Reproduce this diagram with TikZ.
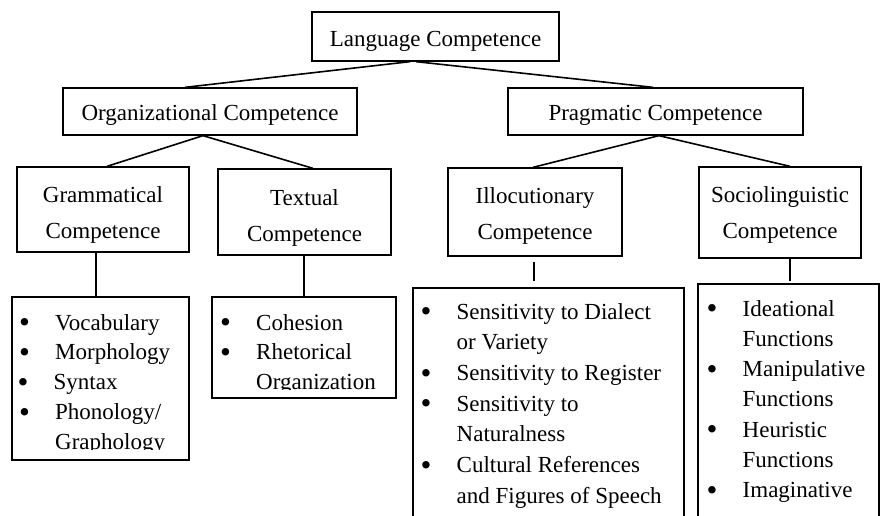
\documentclass[tikz,border=0pt]{standalone}
\usepackage{fontspec}
\setmainfont{Liberation Serif}
\newcommand\mybul{\raisebox{-2.7pt}{\scalebox{1.35}{\textbullet}}}
\newcommand\lbul[1]{\makebox[36pt][l]{\mybul}#1}
\newcommand\lcont[1]{\hspace*{36pt}#1}
\newcommand\twoline[2]{\begin{tabular}[t]{@{}c@{}}#1\\#2\end{tabular}}
\begin{document}
\begin{tikzpicture}[x=1pt,y=-1pt,
  box/.style={draw=black, line width=1.3pt, inner sep=0pt, font=\fontsize{23}{36}\selectfont},
  listbox/.style={draw=black, line width=1.3pt, inner sep=0pt},
  lst/.style={inner sep=0pt, anchor=base west},
  link/.style={line width=1.6pt},
  vlink/.style={line width=1.2pt}]
\useasboundingbox (0,0) rectangle (880,516);
\clip (0,0) rectangle (880,516);

% top levels
\node[box, minimum width=247pt, minimum height=49pt, text height=20.4pt, text depth=0pt] (lang) at (435.5,36.5) {Language Competence};
\node[box, minimum width=294pt, minimum height=47pt, text height=17.4pt, text depth=0pt] (org) at (210,111.5) {Organizational Competence};
\node[box, minimum width=295pt, minimum height=47pt, text height=18pt, text depth=0pt] (prag) at (655.5,111.5) {Pragmatic Competence};

% third level
\node[box, minimum width=172pt, minimum height=85pt, text height=10pt, text depth=25pt] (gram) at (103,209.5) {\twoline{Grammatical}{Competence}};
\node[box, minimum width=173pt, minimum height=86pt, text height=10pt, text depth=24pt] (textual) at (304.5,212) {\twoline{Textual}{Competence}};
\node[box, minimum width=174pt, minimum height=88pt, text height=10pt, text depth=27.4pt] (illoc) at (535,212) {\twoline{Illocutionary}{Competence}};
\node[box, minimum width=162pt, minimum height=91pt, text height=10pt, text depth=30pt] (socio) at (780,212.5) {\twoline{Sociolinguistic}{Competence}};

% list boxes
\node[listbox, minimum width=177pt, minimum height=163pt] (glist) at (100.5,378.5) {};
\node[listbox, minimum width=184pt, minimum height=101pt] (tlist) at (304,347.5) {};
\node[listbox, minimum width=271pt, minimum height=252pt] (ilist) at (548.5,414) {};
\node[listbox, minimum width=181pt, minimum height=256pt] (slist) at (788.5,412) {};

% connectors
\draw[link] ([xshift=-25.5pt]lang.south) -- ([xshift=-25pt]org.north);
\draw[link] ([xshift=-19.5pt]lang.south) -- ([xshift=-2.5pt]prag.north);
\draw[link] ([xshift=-7pt]org.south) -- ([xshift=4pt]gram.north);
\draw[link] ([xshift=-7pt]org.south) -- ([xshift=8.5pt]textual.north);
\draw[link] ([xshift=3.5pt]prag.south) -- ([xshift=-2pt]illoc.north);
\draw[link] ([xshift=3.5pt]prag.south) -- ([xshift=10pt]socio.north);

\coordinate (iv) at (534,281);
\coordinate (sv) at (790,281);
\draw[vlink] ([xshift=-7pt]gram.south) -- ([xshift=-7pt]gram.south |- glist.north);
\draw[vlink] ([xshift=-0.5pt]textual.south) -- ([xshift=-0.5pt]textual.south |- tlist.north);
\draw[vlink] ([xshift=-1pt,yshift=-5pt]illoc.south) -- (iv);
\draw[vlink] (socio.south -| sv) -- (sv);

% list texts
\begin{scope}
\clip (12,297) rectangle (189,449.5);
\node[lst, font=\fontsize{23}{29.9}\selectfont] (gtext) at (19,330) {\begin{tabular}[t]{@{}l@{}}\lbul{Vocabulary}\\\lbul{Morphology}\\\hspace*{-1.5pt}\lbul{Syntax}\\\lbul{Phonology/}\\\lcont{Graphology}\end{tabular}};
\end{scope}
\begin{scope}
\clip (212,297) rectangle (396,389.5);
\node[lst, font=\fontsize{23}{29.9}\selectfont] (ttext) at (220,330) {\begin{tabular}[t]{@{}l@{}}\lbul{Cohesion}\\\lbul{Rhetorical}\\\lcont{Organization}\end{tabular}};
\end{scope}
\node[lst, font=\fontsize{23}{30.7}\selectfont] (itext) at (420.5,319) {\begin{tabular}[t]{@{}l@{}}\lbul{Sensitivity to Dialect}\\\lcont{or Variety}\\\lbul{Sensitivity to Register}\\\lbul{Sensitivity to}\\\lcont{Naturalness}\\\lbul{Cultural References}\\\lcont{and Figures of Speech}\end{tabular}};
\node[lst, font=\fontsize{23}{30.3}\selectfont] (stext) at (706.5,316) {\begin{tabular}[t]{@{}l@{}}\lbul{Ideational}\\\lcont{Functions}\\\lbul{Manipulative}\\\lcont{Functions}\\\lbul{Heuristic}\\\lcont{Functions}\\\lbul{Imaginative}\end{tabular}};
\end{tikzpicture}
\end{document}
